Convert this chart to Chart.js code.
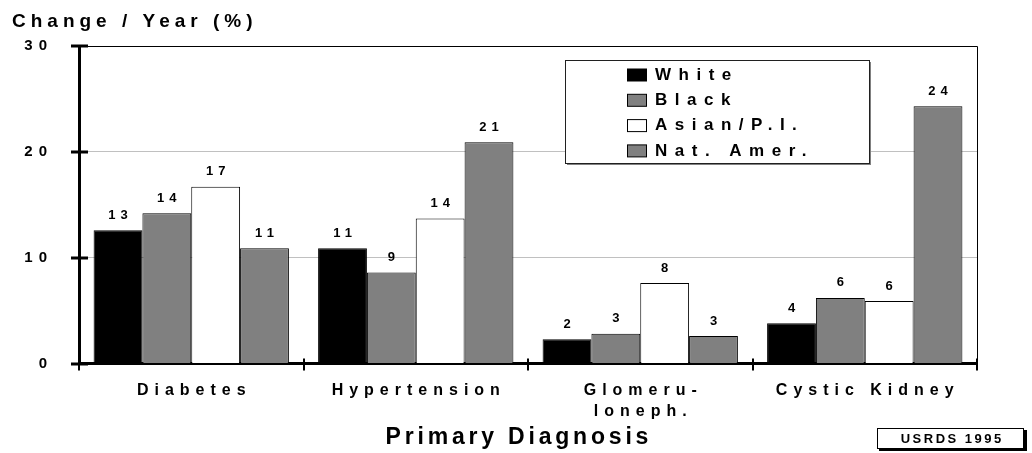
<!DOCTYPE html>
<html>
<head>
<meta charset="utf-8">
<title>Change / Year (%) by Primary Diagnosis</title>
<script src="https://cdn.jsdelivr.net/npm/chart.js@4.4.1/dist/chart.umd.min.js"></script>
<style>
  html, body { margin: 0; padding: 0; background: #fff; }
  #wrap { width: 1032px; height: 453px; position: relative; }
</style>
</head>
<body>
<div id="wrap"><canvas id="chart" width="1032" height="453"></canvas></div>
<script>
    'use strict';

    // ── Data ──────────────────────────────────────────────────────
    const categories = [['Diabetes'], ['Hypertension'], ['Glomeru-', 'loneph.'], ['Cystic Kidney']];
    const seriesNames = ['White', 'Black', 'Asian/P.I.', 'Nat. Amer.'];
    const whiteVals = [12.6, 10.9, 2.3, 3.8];
    const blackVals = [14.2, 8.6, 2.8, 6.2];
    const asianVals = [16.7, 13.7, 7.6, 5.9];
    const natAmerVals = [10.9, 20.9, 2.6, 24.3];
    const yTicks = [0, 10, 20, 30];

    const yTitle = 'Change / Year (%)';
    const xTitle = 'Primary Diagnosis';
    const sourceTag = 'USRDS 1995';

    const FONT = "'Liberation Sans', Arial, sans-serif";
    const fills = ['#000000', '#808080', '#ffffff', '#808080'];

    // draw bold letter-spaced text (the original uses very wide tracking)
    function spaced(ctx, text, x, y, size, spacing, align) {
        ctx.save();
        ctx.font = 'bold ' + size + 'px ' + FONT;
        ctx.letterSpacing = spacing + 'px';
        ctx.fillStyle = '#000';
        ctx.textBaseline = 'middle';
        ctx.textAlign = 'left';
        const w = ctx.measureText(text).width - spacing;
        let sx = x;
        if (align === 'center') sx = x - w / 2;
        else if (align === 'right') sx = x - w;
        ctx.fillText(text, sx, y);
        ctx.restore();
    }

    const decorPlugin = {
        id: 'decor',
        beforeDraw(chart) {
            // tracking for the axis tick labels drawn by Chart.js
            chart.ctx.letterSpacing = '6px';
        },
        afterDatasetsDraw(chart) {
            const ctx = chart.ctx;
            ctx.letterSpacing = '0px';
            const a = chart.chartArea;
            const xs = chart.scales.x;
            const ys = chart.scales.y;

            ctx.save();
            ctx.strokeStyle = '#000';

            // frame: top and right edge
            ctx.lineWidth = 1;
            ctx.beginPath();
            ctx.moveTo(a.left, a.top + 0.5);
            ctx.lineTo(a.right + 0.5, a.top + 0.5);
            ctx.lineTo(a.right + 0.5, a.bottom);
            ctx.stroke();

            // y tick marks crossing the axis
            ctx.lineWidth = 3;
            ys.ticks.forEach(t => {
                const y = Math.round(ys.getPixelForValue(t.value));
                ctx.beginPath();
                ctx.moveTo(a.left - 8, y);
                ctx.lineTo(a.left + 9, y);
                ctx.stroke();
            });

            // x tick marks at category boundaries
            ctx.lineWidth = 2;
            const n = categories.length;
            for (let i = 0; i <= n; i++) {
                const x = Math.round(xs.left + i * xs.width / n);
                ctx.beginPath();
                ctx.moveTo(x, a.bottom - 5);
                ctx.lineTo(x, a.bottom + 7);
                ctx.stroke();
            }
            ctx.restore();

            // value labels above bars
            chart.data.datasets.forEach((ds, di) => {
                chart.getDatasetMeta(di).data.forEach((bar, i) => {
                    spaced(ctx, String(Math.round(ds.data[i])), bar.x, bar.y - 15, 13, 5, 'center');
                });
            });

            // legend box
            const lx = 565, ly = 60, lw = 304, lh = 103;
            ctx.save();
            ctx.fillStyle = '#808080';
            ctx.fillRect(lx + 2, ly + 2, lw, lh);
            ctx.fillStyle = '#fff';
            ctx.fillRect(lx, ly, lw, lh);
            ctx.strokeStyle = '#202020';
            ctx.lineWidth = 1;
            ctx.strokeRect(lx + 0.5, ly + 0.5, lw, lh);
            chart.data.datasets.forEach((ds, i) => {
                const cy = 75 + i * 25.3;
                ctx.fillStyle = ds.backgroundColor;
                ctx.fillRect(627.5, cy - 6, 19, 12);
                ctx.strokeStyle = '#000';
                ctx.strokeRect(627.5, cy - 6, 19, 12);
                spaced(ctx, ds.label, 655, cy, 17, 7.5, 'left');
            });
            ctx.restore();
        },
        afterDraw(chart) {
            const ctx = chart.ctx;
            ctx.letterSpacing = '0px';

            // titles
            spaced(ctx, yTitle, 12, 22, 19, 5, 'left');
            spaced(ctx, xTitle, 517, 438, 23, 3.8, 'center');

            // source tag box
            ctx.save();
            ctx.fillStyle = '#000';
            ctx.fillRect(879, 430, 148, 21);
            ctx.fillStyle = '#fff';
            ctx.fillRect(877, 428, 146, 20);
            ctx.strokeStyle = '#000';
            ctx.lineWidth = 1;
            ctx.strokeRect(877.5, 428.5, 146, 20);
            ctx.restore();
            spaced(ctx, sourceTag, 951, 439, 13, 2.5, 'center');
        }
    };

    const datasets = [whiteVals, blackVals, asianVals, natAmerVals].map((vals, i) => ({
        label: seriesNames[i],
        data: vals,
        backgroundColor: fills[i],
        borderColor: '#000',
        borderWidth: 1,
        borderSkipped: 'bottom',
        barPercentage: 1,
        categoryPercentage: 0.87
    }));

    new Chart(document.getElementById('chart'), {
        type: 'bar',
        data: { labels: categories, datasets: datasets },
        plugins: [decorPlugin],
        options: {
            responsive: false,
            animation: false,
            devicePixelRatio: 1,
            layout: { padding: { top: 46, right: 55, bottom: 0, left: 0 } },
            plugins: { legend: { display: false }, tooltip: { enabled: false } },
            scales: {
                x: {
                    afterFit: s => { s.height = 89.5; },
                    grid: { display: false },
                    border: { color: '#000', width: 3 },
                    ticks: {
                        color: '#000',
                        font: { family: FONT, size: 16, weight: 'bold', lineHeight: 1.3 },
                        padding: 9,
                        labelOffset: 3,
                        maxRotation: 0,
                        autoSkip: false
                    }
                },
                y: {
                    min: yTicks[0],
                    max: yTicks[yTicks.length - 1],
                    afterFit: s => { s.width = 79; },
                    afterBuildTicks: s => { s.ticks = yTicks.map(v => ({ value: v })); },
                    grid: {
                        color: c => (c.tick && c.tick.value === 30 ? '#000' : '#c0c0c0'),
                        lineWidth: 1,
                        drawTicks: false
                    },
                    border: { color: '#000', width: 3 },
                    ticks: {
                        color: '#000',
                        font: { family: FONT, size: 15, weight: 'bold' },
                        padding: 26
                    }
                }
            }
        }
    });
</script>
</body>
</html>
